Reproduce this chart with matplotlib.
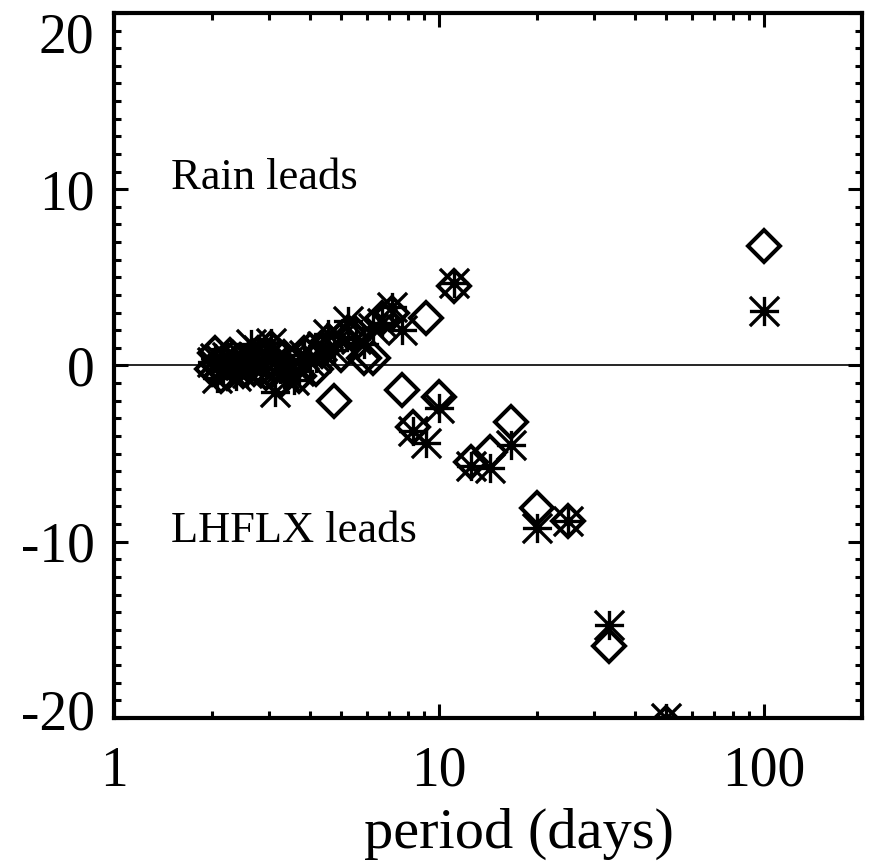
# Lag between rain and latent heat flux versus period
import matplotlib
matplotlib.use("Agg")
import matplotlib.pyplot as plt
import matplotlib.transforms as mtransforms
from matplotlib.path import Path
from matplotlib.ticker import FixedLocator, MultipleLocator, NullFormatter

plt.rcParams["font.family"] = ["Liberation Serif", "DejaVu Serif"]
plt.rcParams["axes.unicode_minus"] = False

# Periods (days) of each harmonic
Periods = [100, 50, 33.3, 25, 20, 16.7, 14.3, 12.5, 11.1, 10,
           9.09, 8.33, 7.69, 7.14, 6.67, 6.25, 5.88, 5.56, 5.26, 5.0,
           4.76, 4.55, 4.35, 4.17, 4.0, 3.85, 3.70, 3.57, 3.45, 3.33,
           3.23, 3.13, 3.03, 2.94, 2.86, 2.78, 2.70, 2.63, 2.56, 2.50,
           2.44, 2.38, 2.33, 2.27, 2.22, 2.17, 2.13, 2.08, 2.04, 2.0]

# Lag (days) from the first estimate, drawn as diamonds
LagDiamond = [6.8, -20.3, -15.9, -8.8, -8.1, -3.2, -4.9, -5.5, 4.5, -1.8,
              2.7, -3.5, -1.4, 3.0, 2.7, 0.4, 0.4, 1.8, 1.9, 0.6,
              -2.0, 1.4, 0.8, -0.2, 0.9, 0.7, -0.6, 0.2, -0.3, 0.5,
              -0.9, 0.1, 1.0, -0.4, 0.3, 0.7, -0.2, 0.5, 0.1, -0.3,
              0.3, -0.1, 0.4, 0.6, -0.4, 0.2, -0.6, 0.1, 0.7, -0.2]

# Lag (days) from the second estimate, drawn as asterisks
LagAsterisk = [3.1, -20.0, -14.7, -8.8, -9.2, -4.5, -5.8, -5.7, 4.7, -2.4,
               -4.4, -3.7, 2.0, 3.3, 2.4, 2.1, 1.2, 1.5, 2.5, 1.6,
               0.9, 1.8, 1.1, 0.4, 0.2, 0.6, -0.3, -0.8, 0.3, -0.5,
               -0.2, -1.5, 1.3, 0.7, -0.2, 0.9, 0.1, 1.2, -0.4, 0.4,
               0.0, -0.6, 0.2, -0.3, 0.5, -0.2, 0.3, -0.7, 0.4, 0.2]

XTicks = [1, 10, 100]
XTickLabels = ["1", "10", "100"]
YTicks = [-20, -10, 0, 10, 20]
YTickLabels = ["-20", "-10", "0", "10", "20"]

# eight-armed asterisk: plus sign and an x reaching the box corners
Asterisk = Path([(-1, 0), (1, 0), (0, -1), (0, 1), (-1, -1), (1, 1), (-1, 1), (1, -1)],
                [Path.MOVETO, Path.LINETO] * 4)

fig = plt.figure(figsize=(8.73, 8.61), dpi=100)
ax = fig.add_axes([0.1306, 0.1661, 0.8568, 0.8188])

ax.plot([1, 200], [0, 0], color="black", linewidth=1.2)
ax.plot(Periods, LagDiamond, linestyle="none", marker="D", markersize=16.5,
        markerfacecolor="none", markeredgecolor="black", markeredgewidth=2.9)
ax.plot(Periods, LagAsterisk, linestyle="none", marker=Asterisk, markersize=21,
        markeredgecolor="black", markeredgewidth=2.4)

ax.set_xscale("log")
ax.set_xlim(1, 200)
ax.set_ylim(-20, 20)

ax.xaxis.set_major_locator(FixedLocator(XTicks))
ax.set_xticklabels(XTickLabels)
ax.xaxis.set_minor_locator(FixedLocator([2, 3, 4, 5, 6, 7, 8, 9, 20, 30, 40, 50, 60, 70, 80, 90]))
ax.xaxis.set_minor_formatter(NullFormatter())
ax.set_yticks(YTicks)
ax.set_yticklabels(YTickLabels)
ax.yaxis.set_minor_locator(MultipleLocator(1))

ax.tick_params(which="both", direction="in", top=True, right=True, width=2.2, labelsize=40)
ax.tick_params(which="major", length=10)
ax.tick_params(which="minor", length=5)
ax.tick_params(axis="x", pad=20)
ax.tick_params(axis="y", pad=14)
for spine in ax.spines.values():
    spine.set_linewidth(3.0)

# keep the end labels of the y axis inside the figure
ylabels = ax.get_yticklabels()
ylabels[-1].set_transform(ylabels[-1].get_transform() +
                          mtransforms.ScaledTranslation(0, -14 / 72, fig.dpi_scale_trans))
ylabels[0].set_transform(ylabels[0].get_transform() +
                         mtransforms.ScaledTranslation(0, 6 / 72, fig.dpi_scale_trans))

ax.text(1.5, 10, "Rain leads", fontsize=32, va="baseline", ha="left")
ax.text(1.5, -10, "LHFLX leads", fontsize=32, va="baseline", ha="left")

fig.text(0.595, 0.015, "period (days)", fontsize=42, ha="center", va="baseline")

plt.savefig("out.png", dpi=100)
